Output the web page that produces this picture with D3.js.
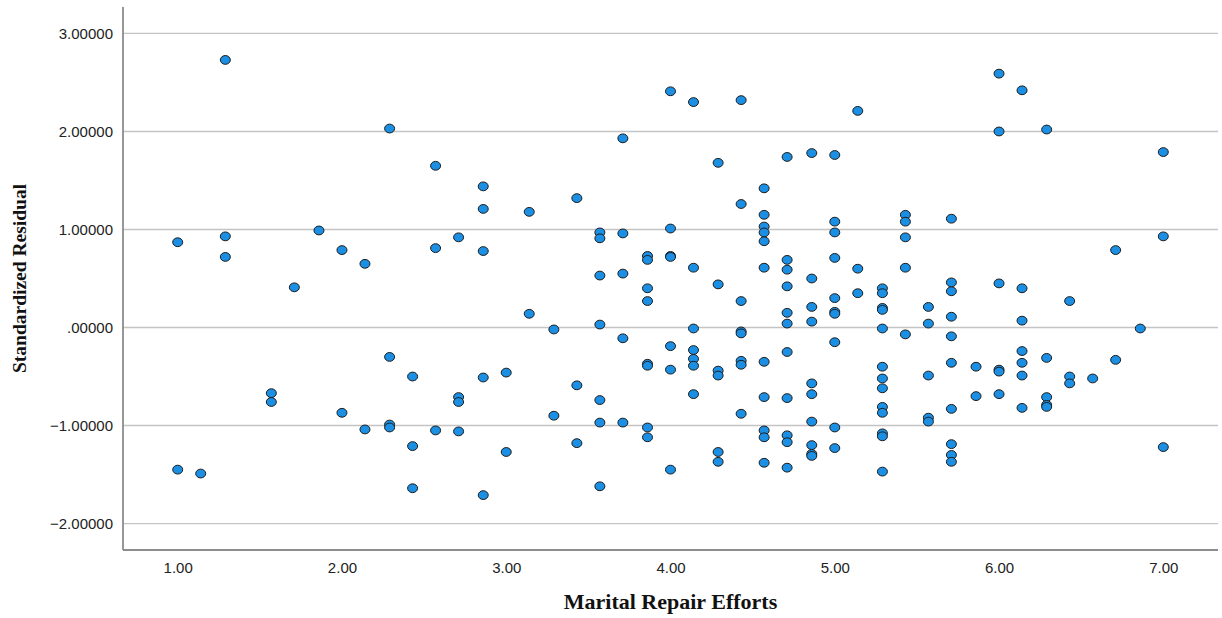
<!DOCTYPE html>
<html>
<head>
<meta charset="utf-8">
<script src="https://cdn.jsdelivr.net/npm/d3@7"></script>
<style>
  body { margin: 0; background: #fff; }
  .tick text { font-family: "Liberation Sans", Arial, sans-serif; font-size: 15px; fill: #222; }
  .title { font-family: "Liberation Serif", "Times New Roman", serif; font-weight: bold; fill: #111; }
</style>
</head>
<body>
<div id="content"></div>
<script>
const svgWidth = 1222, svgHeight = 618;

// one entry per case
const effort = [
  1.00, 1.00,
  1.14,
  1.29, 1.29, 1.29,
  1.57, 1.57,
  1.71,
  1.86,
  2.00, 2.00,
  2.14, 2.14,
  2.29, 2.29, 2.29, 2.29,
  2.43, 2.43, 2.43,
  2.57, 2.57, 2.57,
  2.71, 2.71, 2.71, 2.71,
  2.86, 2.86, 2.86, 2.86, 2.86,
  3.00, 3.00,
  3.14, 3.14,
  3.29, 3.29,
  3.43, 3.43, 3.43,
  3.57, 3.57, 3.57, 3.57, 3.57, 3.57, 3.57,
  3.71, 3.71, 3.71, 3.71, 3.71,
  3.86, 3.86, 3.86, 3.86, 3.86, 3.86, 3.86, 3.86,
  4.00, 4.00, 4.00, 4.00, 4.00, 4.00, 4.00,
  4.14, 4.14, 4.14, 4.14, 4.14, 4.14, 4.14,
  4.29, 4.29, 4.29, 4.29, 4.29, 4.29,
  4.43, 4.43, 4.43, 4.43, 4.43, 4.43, 4.43, 4.43,
  4.57, 4.57, 4.57, 4.57, 4.57, 4.57, 4.57, 4.57, 4.57, 4.57, 4.57,
  4.71, 4.71, 4.71, 4.71, 4.71, 4.71, 4.71, 4.71, 4.71, 4.71, 4.71,
  4.86, 4.86, 4.86, 4.86, 4.86, 4.86, 4.86, 4.86, 4.86, 4.86,
  5.00, 5.00, 5.00, 5.00, 5.00, 5.00, 5.00, 5.00, 5.00, 5.00,
  5.14, 5.14, 5.14,
  5.29, 5.29, 5.29, 5.29, 5.29, 5.29, 5.29, 5.29, 5.29, 5.29, 5.29, 5.29, 5.29,
  5.43, 5.43, 5.43, 5.43, 5.43,
  5.57, 5.57, 5.57, 5.57, 5.57,
  5.71, 5.71, 5.71, 5.71, 5.71, 5.71, 5.71, 5.71, 5.71, 5.71,
  5.86, 5.86,
  6.00, 6.00, 6.00, 6.00, 6.00, 6.00,
  6.14, 6.14, 6.14, 6.14, 6.14, 6.14, 6.14,
  6.29, 6.29, 6.29, 6.29, 6.29,
  6.43, 6.43, 6.43,
  6.57,
  6.71, 6.71,
  6.86,
  7.00, 7.00, 7.00
];

const residual = [
  0.87, -1.45,
  -1.49,
  2.73, 0.93, 0.72,
  -0.67, -0.76,
  0.41,
  0.99,
  0.79, -0.87,
  0.65, -1.04,
  2.03, -0.30, -0.99, -1.02,
  -0.50, -1.21, -1.64,
  1.65, 0.81, -1.05,
  0.92, -0.71, -0.76, -1.06,
  1.44, 1.21, 0.78, -0.51, -1.71,
  -0.46, -1.27,
  1.18, 0.14,
  -0.02, -0.90,
  1.32, -0.59, -1.18,
  0.97, 0.91, 0.53, 0.03, -0.74, -0.97, -1.62,
  1.93, 0.96, 0.55, -0.11, -0.97,
  0.73, 0.69, 0.40, 0.27, -0.37, -0.39, -1.02, -1.12,
  2.41, 1.01, 0.73, 0.72, -0.19, -0.43, -1.45,
  2.30, 0.61, -0.01, -0.23, -0.32, -0.39, -0.68,
  1.68, 0.44, -0.44, -0.49, -1.27, -1.37,
  2.32, 1.26, 0.27, -0.04, -0.06, -0.34, -0.38, -0.88,
  1.42, 1.15, 1.03, 0.97, 0.88, 0.61, -0.35, -0.71, -1.05, -1.12, -1.38,
  1.74, 0.69, 0.59, 0.42, 0.15, 0.04, -0.25, -0.72, -1.10, -1.17, -1.43,
  1.78, 0.50, 0.21, 0.06, -0.57, -0.68, -0.96, -1.20, -1.29, -1.31,
  1.76, 1.08, 0.97, 0.71, 0.30, 0.16, 0.14, -0.15, -1.02, -1.23,
  2.21, 0.60, 0.35,
  0.40, 0.35, 0.20, 0.18, -0.01, -0.40, -0.52, -0.62, -0.81, -0.87, -1.08, -1.11, -1.47,
  1.15, 1.08, 0.92, 0.61, -0.07,
  0.21, 0.04, -0.49, -0.92, -0.96,
  1.11, 0.46, 0.37, 0.11, -0.09, -0.36, -0.83, -1.19, -1.30, -1.37,
  -0.40, -0.70,
  2.59, 2.00, 0.45, -0.43, -0.45, -0.68,
  2.42, 0.40, 0.07, -0.24, -0.36, -0.49, -0.82,
  2.02, -0.31, -0.71, -0.79, -0.81,
  0.27, -0.50, -0.57,
  -0.52,
  0.79, -0.33,
  -0.01,
  1.79, 0.93, -1.22
];

const xTicks = [1, 2, 3, 4, 5, 6, 7];
const yTicks = [-2, -1, 0, 1, 2, 3];
const xTitle = "Marital Repair Efforts";
const yTitle = "Standardized Residual";

const margin = {top: 7, right: 4, bottom: 68, left: 123};
const plotW = svgWidth - margin.left - margin.right;
const plotH = svgHeight - margin.top - margin.bottom;

const points = effort.map((e, i) => ({x: e, y: residual[i]}));

// spss drops the leading zero
const fmtY = d => d3.format(".5f")(d).replace(/^(-?)0\./, "$1.");

const svg = d3.select("#content").append("svg")
  .attr("width", svgWidth)
  .attr("height", svgHeight);

const x = d3.scaleLinear().domain([0.667, 7.333]).range([0, plotW]);
const y = d3.scaleLinear().domain([-2.27, 3.27]).range([plotH, 0]);

const g = svg.append("g").attr("transform", `translate(${margin.left},${margin.top})`);

// gridlines
g.selectAll("line.grid")
  .data(yTicks).enter().append("line")
  .attr("class", "grid")
  .attr("x1", 0).attr("x2", plotW)
  .attr("y1", d => y(d)).attr("y2", d => y(d))
  .attr("stroke", "#c4c4c4")
  .attr("stroke-width", 1.3);

const yAxis = g.append("g")
  .call(d3.axisLeft(y).tickValues(yTicks).tickFormat(fmtY).tickSize(0).tickPadding(10));
yAxis.select(".domain").remove();

const xAxis = g.append("g")
  .attr("transform", `translate(0,${plotH})`)
  .call(d3.axisBottom(x).tickValues(xTicks).tickFormat(d3.format(".2f")).tickSize(0).tickPadding(12));
xAxis.select(".domain").remove();

// axis lines
g.append("line")
  .attr("x1", 0).attr("x2", 0).attr("y1", 0).attr("y2", plotH)
  .attr("stroke", "#8c8c8c").attr("stroke-width", 1.8);
g.append("line")
  .attr("x1", 0).attr("x2", plotW).attr("y1", plotH).attr("y2", plotH)
  .attr("stroke", "#8c8c8c").attr("stroke-width", 1.8);

g.selectAll("ellipse")
  .data(points).enter().append("ellipse")
  .attr("cx", d => x(d.x))
  .attr("cy", d => y(d.y))
  .attr("rx", 5)
  .attr("ry", 4.4)
  .attr("fill", "#1b8fe3")
  .attr("stroke", "#1c1c1c")
  .attr("stroke-width", 1);

svg.append("text")
  .attr("class", "title")
  .attr("x", margin.left + plotW / 2)
  .attr("y", 609)
  .attr("text-anchor", "middle")
  .style("font-size", "22px")
  .text(xTitle);

svg.append("text")
  .attr("class", "title")
  .attr("transform", `translate(26,${margin.top + plotH / 2}) rotate(-90)`)
  .attr("text-anchor", "middle")
  .style("font-size", "19.5px")
  .text(yTitle);
</script>
</body>
</html>
